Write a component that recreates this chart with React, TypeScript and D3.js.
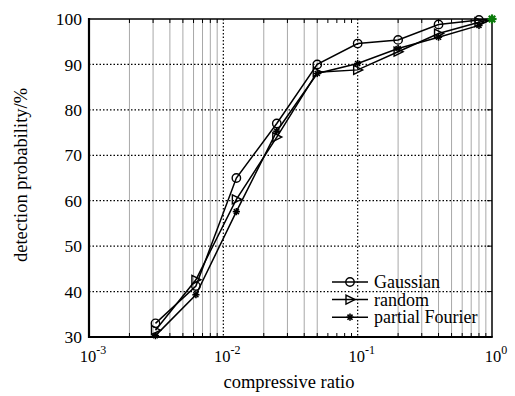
import React from "react";
import * as d3 from "d3";

const ratios = [0.003125, 0.00625, 0.0125, 0.025, 0.05, 0.1, 0.2, 0.4, 0.8, 1];
const gaussian = [33, 41.2, 65, 77, 90, 94.6, 95.4, 98.8, 99.8, 100];
const randomM = [31.5, 42.6, 60.3, 74, 88.3, 88.8, 92.8, 96.8, 99.3, 100];
const fourier = [30.3, 39.3, 57.6, 75.3, 88, 90.2, 93.5, 96, 98.6, 100];
const yTicks = [30, 40, 50, 60, 70, 80, 90, 100];
const xDecades = [-3, -2, -1, 0];
const legendLabels = ["Gaussian", "random", "partial Fourier"];

const W = 515, H = 396;
const L = 89, R = 492, T = 19, B = 337;
const FONT = "'Liberation Serif', 'Times New Roman', serif";

function Marker({ kind, x, y, color = "#000", size = 3.6, sw = 1.6 }: { kind: string; x: number; y: number; color?: string; size?: number; sw?: number }) {
  if (kind === "o") return <circle cx={x} cy={y} r={4.2} fill="none" stroke={color} strokeWidth={1.4} />;
  if (kind === ">")
    return <path d={`M${x - 4},${y - 4.5}L${x + 5},${y}L${x - 4},${y + 4.5}Z`} fill="none" stroke={color} strokeWidth={1.4} />;
  const s = size;
  return (
    <g stroke={color} strokeWidth={sw}>
      <line x1={x - s} y1={y} x2={x + s} y2={y} />
      <line x1={x} y1={y - s} x2={x} y2={y + s} />
      <line x1={x - s * 0.7} y1={y - s * 0.7} x2={x + s * 0.7} y2={y + s * 0.7} />
      <line x1={x - s * 0.7} y1={y + s * 0.7} x2={x + s * 0.7} y2={y - s * 0.7} />
    </g>
  );
}

export default function App() {
  const x = d3.scaleLog().domain([1e-3, 1]).range([L, R]);
  const y = d3.scaleLinear().domain([30, 100]).range([B, T]);
  const line = d3.line<number>().x((_, i) => x(ratios[i])).y((v) => y(v));

  const minors: number[] = [];
  [-3, -2, -1].forEach((e) => {
    for (let m = 2; m <= 9; m++) minors.push(m * Math.pow(10, e));
  });
  const gridMinors = minors.filter((v) => !(v > 0.055 && v < 0.095));

  const series = [
    { vals: gaussian, kind: "o" },
    { vals: randomM, kind: ">" },
    { vals: fourier, kind: "*" },
  ];

  return (
    <svg width={W} height={H} style={{ position: "absolute", left: 0, top: 0, background: "#fff" }} fontFamily={FONT}>
      <rect width={W} height={H} fill="#fff" />
      {gridMinors.map((v, i) => (
        <line key={"gm" + i} x1={x(v)} x2={x(v)} y1={T} y2={B} stroke="#a8a8a8" strokeWidth={1} />
      ))}
      {[1e-2, 1e-1].map((v, i) => (
        <line key={"gd" + i} x1={x(v)} x2={x(v)} y1={T} y2={B} stroke="#000" strokeWidth={1.2} strokeDasharray="1.5,2" />
      ))}
      {yTicks.slice(1, -1).map((t) => (
        <line key={"gy" + t} x1={L} x2={R} y1={y(t)} y2={y(t)} stroke="#000" strokeWidth={1.2} strokeDasharray="1.5,2" />
      ))}
      {minors.map((v, i) => (
        <g key={"tk" + i} stroke="#000" strokeWidth={1}>
          <line x1={x(v)} x2={x(v)} y1={B} y2={B - 4} />
          <line x1={x(v)} x2={x(v)} y1={T} y2={T + 4} />
        </g>
      ))}
      {yTicks.map((t) => (
        <line key={"ry" + t} x1={R} x2={R - 5} y1={y(t)} y2={y(t)} stroke="#000" strokeWidth={1} />
      ))}
      <line x1={L} x2={R} y1={T} y2={T} stroke="#000" strokeWidth={1.5} />
      <line x1={R} x2={R} y1={T} y2={B} stroke="#000" strokeWidth={1.5} />
      <line x1={L} x2={L} y1={T - 1} y2={B + 1} stroke="#000" strokeWidth={2.2} />
      <line x1={L - 1} x2={R + 0.75} y1={B} y2={B} stroke="#000" strokeWidth={2.2} />

      {series.map((s, si) => (
        <g key={"s" + si}>
          <path d={line(s.vals) || ""} fill="none" stroke="#000" strokeWidth={1.5} />
          {s.vals.slice(0, -1).map((v, i) => (
            <Marker key={i} kind={s.kind} x={x(ratios[i])} y={y(v)} />
          ))}
        </g>
      ))}
      <Marker kind="*" x={x(1)} y={y(100)} color="#0a7a0a" size={4.6} sw={2.2} />
      <circle cx={x(1)} cy={y(100)} r={2.8} fill="#0a7a0a" />

      {yTicks.map((t) => (
        <text key={"yl" + t} x={L - 7} y={y(t)} dy="0.35em" textAnchor="end" fontSize={17.5}>
          {t}
        </text>
      ))}
      {xDecades.map((e) => (
        <text key={"xl" + e} x={x(Math.pow(10, e)) + 4} y={362} textAnchor="middle" fontSize={16.5}>
          10
          <tspan dy={-8} fontSize={12}>
            {e === 0 ? "0" : String(e)}
          </tspan>
        </text>
      ))}
      <text x={289} y={388} textAnchor="middle" fontSize={18.5}>
        compressive ratio
      </text>
      <text transform={`translate(27,175) rotate(-90)`} textAnchor="middle" fontSize={18.5}>
        detection probability/%
      </text>

      {legendLabels.map((lab, i) => {
        const ly = 282 + i * 17.6;
        const kinds = ["o", ">", "*"];
        return (
          <g key={"lg" + i}>
            <line x1={332} x2={368} y1={ly} y2={ly} stroke="#000" strokeWidth={1.5} />
            <Marker kind={kinds[i]} x={350} y={ly} />
            <text x={374} y={ly} dy="0.33em" fontSize={18}>
              {lab}
            </text>
          </g>
        );
      })}
    </svg>
  );
}
